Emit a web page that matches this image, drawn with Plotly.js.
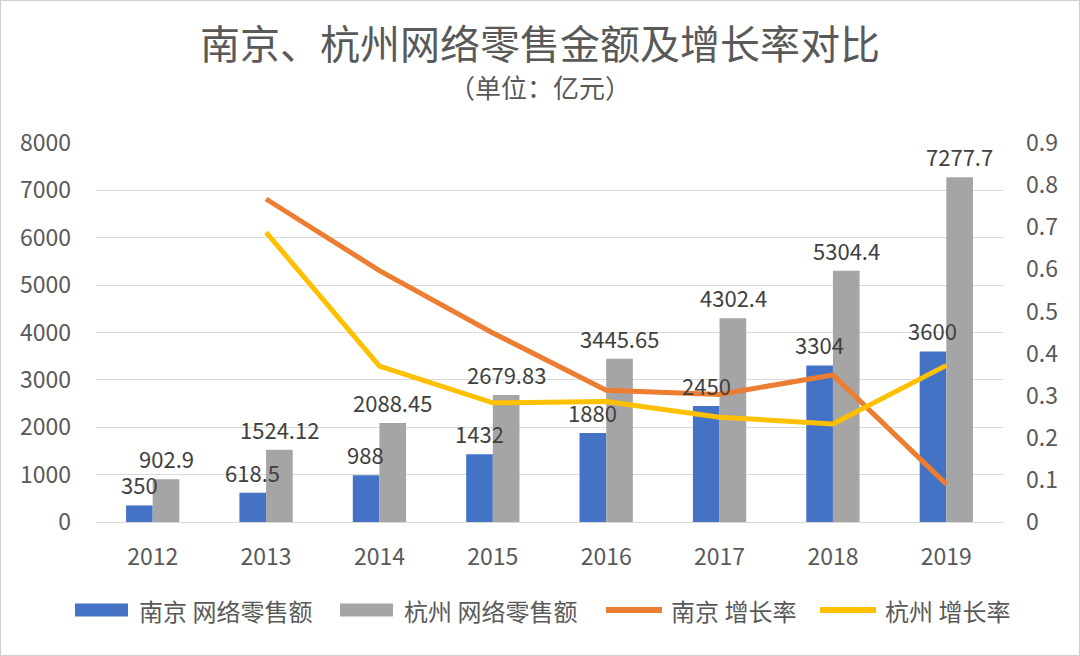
<!DOCTYPE html>
<html>
<head>
<meta charset="utf-8">
<script src="https://cdn.plot.ly/plotly-3.0.1.min.js"></script>
<style>
html,body{margin:0;padding:0;background:#fff;}
#wrap{position:relative;width:1080px;height:656px;}
#chart{width:1080px;height:656px;}
#frame{position:absolute;left:0;top:0;width:1080px;height:656px;box-sizing:border-box;border:1px solid #d0d0d0;pointer-events:none;z-index:10;}
</style>
</head>
<body>
<div id="wrap"><div id="chart"></div><div id="frame"></div></div>
<script>
const years = ['2012','2013','2014','2015','2016','2017','2018','2019'];
const njSales = [350, 618.5, 988, 1432, 1880, 2450, 3304, 3600];
const hzSales = [902.9, 1524.12, 2088.45, 2679.83, 3445.65, 4302.4, 5304.4, 7277.7];
const njGrowth = [null, 0.767, 0.597, 0.449, 0.313, 0.303, 0.349, 0.090];
const hzGrowth = [null, 0.688, 0.370, 0.283, 0.286, 0.249, 0.233, 0.372];
const njSalesLabels = ['350','618.5','988','1432','1880','2450','3304','3600'];
const hzSalesLabels = ['902.9','1524.12','2088.45','2679.83','3445.65','4302.4','5304.4','7277.7'];
const seriesNames = ['南京 网络零售额','杭州 网络零售额','南京 增长率','杭州 增长率'];
const leftTicks = [0,1000,2000,3000,4000,5000,6000,7000,8000];
const rightTicks = [0,0.1,0.2,0.3,0.4,0.5,0.6,0.7,0.8,0.9];
const rightTickText = ['0','0.1','0.2','0.3','0.4','0.5','0.6','0.7','0.8','0.9'];
const titleText = '南京、杭州网络零售金额及增长率对比';
const subtitleText = '（单位：亿元）';

const FONT = '"Noto Sans CJK SC", "Noto Sans", sans-serif';
const colors = ['#4472C4', '#A5A5A5', '#ED7D31', '#FFC000'];
const TXT = '#595959';
const LBL = '#404040';

const W = 1080, H = 656, ML = 96, MR = 77, MT = 143, MB = 134;
const PW = W - ML - MR, PH = H - MT - MB;
const px = v => (v - ML) / PW;
const py = v => (H - MB - v) / PH;

const traces = [
  {type:'bar', x:years, y:njSales, name:seriesNames[0], marker:{color:colors[0]}, showlegend:false},
  {type:'bar', x:years, y:hzSales, name:seriesNames[1], marker:{color:colors[1]}, showlegend:false},
  {type:'scatter', mode:'lines', x:years, y:njGrowth, yaxis:'y2', name:seriesNames[2],
   line:{color:colors[2], width:5}, showlegend:false},
  {type:'scatter', mode:'lines', x:years, y:hzGrowth, yaxis:'y2', name:seriesNames[3],
   line:{color:colors[3], width:5}, showlegend:false}
];

const annotations = [
  {text:subtitleText, xref:'paper', yref:'paper', x:px(540), y:py(87), xanchor:'center', yanchor:'middle',
   showarrow:false, font:{family:FONT, size:26, color:TXT}}
];

// data labels above the bars (category index on the category axis)
const barHalf = 13.5;
years.forEach((yr, i) => {
  annotations.push({text:njSalesLabels[i], x:i, y:njSales[i], xref:'x', yref:'y',
    xanchor:'center', yanchor:'bottom', xshift:-barHalf, yshift:3, showarrow:false,
    font:{family:FONT, size:22, color:LBL}});
  annotations.push({text:hzSalesLabels[i], x:i, y:hzSales[i], xref:'x', yref:'y',
    xanchor:'center', yanchor:'bottom', xshift:barHalf, yshift:3, showarrow:false,
    font:{family:FONT, size:22, color:LBL}});
});

// manual legend (Excel-style wide swatches)
const legY = 610;
const legItems = [
  {kind:'rect', s0:75, s1:128, t:137},
  {kind:'rect', s0:340, s1:393, t:402},
  {kind:'line', s0:606, s1:662, t:669},
  {kind:'line', s0:820, s1:876, t:883}
];
const shapes = [];
legItems.forEach((it, i) => {
  if (it.kind === 'rect') {
    shapes.push({type:'rect', xref:'paper', yref:'paper', x0:px(it.s0), x1:px(it.s1),
      y0:py(legY + 6.5), y1:py(legY - 6.5), fillcolor:colors[i], line:{width:0}});
  } else {
    shapes.push({type:'line', xref:'paper', yref:'paper', x0:px(it.s0), x1:px(it.s1),
      y0:py(legY), y1:py(legY), line:{color:colors[i], width:6}});
  }
  annotations.push({text:seriesNames[i], xref:'paper', yref:'paper', x:px(it.t), y:py(legY),
    xanchor:'left', yanchor:'middle', showarrow:false, font:{family:FONT, size:24, color:TXT}});
});

const layout = {
  width:W, height:H,
  margin:{l:ML, r:MR, t:MT, b:MB},
  paper_bgcolor:'#ffffff', plot_bgcolor:'#ffffff',
  font:{family:FONT, color:TXT},
  title:{text:titleText, font:{family:FONT, size:40, color:TXT},
         x:0.5, xanchor:'center', y:1 - 45 / H, yref:'container', yanchor:'middle'},
  annotations:annotations,
  shapes:shapes,
  barmode:'group', bargap:0.53, bargroupgap:0,
  xaxis:{type:'category', range:[-0.5, 7.5], tickfont:{family:FONT, size:23, color:TXT},
         showline:true, linecolor:'#d9d9d9', linewidth:1, ticks:'', showgrid:false,
         ticklabelstandoff:14},
  yaxis:{range:[0,8000], tickvals:leftTicks, tickfont:{family:FONT, size:23, color:TXT},
         showgrid:true, gridcolor:'#d9d9d9', gridwidth:1, zeroline:false, ticks:'',
         ticklabelstandoff:24},
  yaxis2:{range:[0,0.9], overlaying:'y', side:'right', tickvals:rightTicks, ticktext:rightTickText,
          tickfont:{family:FONT, size:23, color:TXT}, showgrid:false, zeroline:false, ticks:'',
          ticklabelstandoff:22},
  showlegend:false
};

Plotly.newPlot('chart', traces, layout, {displayModeBar:false, staticPlot:true});
</script>
</body>
</html>
